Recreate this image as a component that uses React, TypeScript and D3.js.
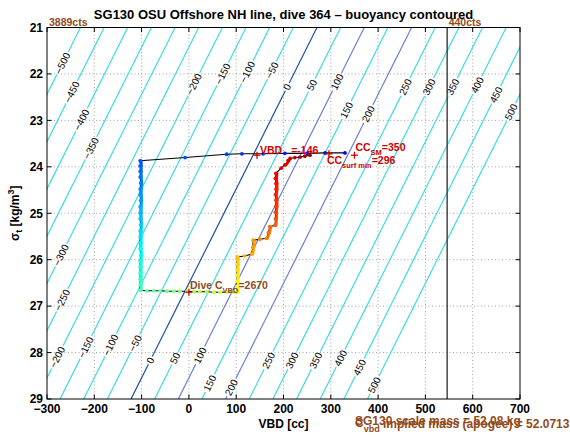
import React from 'react';
import * as d3 from 'd3';

// ---------- data ----------
const xTicks = [-300, -200, -100, 0, 100, 200, 300, 400, 500, 600, 700];
const yTicks = [21, 22, 23, 24, 25, 26, 27, 28, 29];

// buoyancy field: contour level L lies at VBD = L + FIELD_VBD_AT_21 - FIELD_SLOPE*(sigma-21)
const FIELD_VBD_AT_21 = 270.8;
const FIELD_SLOPE = 49.15;
const contourLevels = [-500, -450, -400, -350, -300, -250, -200, -150, -100, -50, 0, 50, 100, 150, 200, 250, 300, 350, 400, 450, 500];
// contour labels: [level, sigma where the label sits]
const contourLabels: [number, number][] = [
  [-500, 21.77], [-450, 22.39], [-400, 22.99], [-350, 23.6], [-300, 25.9], [-250, 26.87],
  [-200, 28.1], [-150, 27.89], [-100, 27.84], [-50, 27.8], [0, 28.17], [50, 28.12], [100, 28.06],
  [150, 28.66], [200, 28.75], [250, 28.17], [300, 28.17], [350, 28.17], [400, 28.12], [450, 28.32], [500, 28.7],
  [-200, 22.22], [-150, 22.0], [-100, 21.96], [-50, 21.92], [0, 22.28], [50, 22.24], [100, 22.17], [150, 22.78],
  [200, 22.86], [250, 22.28], [300, 22.28], [350, 22.28], [400, 22.24], [450, 22.45], [500, 22.82],
];

// dive path (VBD cc, sigma_t)
const pathVbd = [
  330, 288, 250, 203, 157, 112, 80, -8, -103,
  -103, -103, -103, -102, -103, -103, -102, -103, -103, -103, -102, -103, -103, -103, -103, -102, -103, -103, -103, -103, -103, -103,
  -89, -74, -61, -46, -32, -19, -4, 11, 23, 38, 53, 66, 80, 93, 102,
  102, 102, 102, 102, 102, 102, 102,
  118, 133, 135, 136, 150, 164, 168, 171, 182,
  183, 183, 184, 184, 183, 184, 184, 183, 184, 195, 203, 210, 214, 224, 235, 245, 256,
];
const pathSigma = [
  23.70, 23.70, 23.71, 23.71, 23.72, 23.72, 23.73, 23.80, 23.87,
  23.98, 24.10, 24.22, 24.35, 24.48, 24.60, 24.73, 24.86, 24.99, 25.12, 25.25, 25.38, 25.51, 25.64, 25.77, 25.90, 26.03, 26.16, 26.29, 26.42, 26.54, 26.66,
  26.67, 26.67, 26.67, 26.68, 26.68, 26.68, 26.68, 26.69, 26.69, 26.69, 26.70, 26.70, 26.70, 26.70, 26.70,
  26.58, 26.46, 26.34, 26.22, 26.10, 25.99, 25.94,
  25.92, 25.88, 25.73, 25.58, 25.56, 25.54, 25.42, 25.29, 25.26,
  25.12, 24.98, 24.85, 24.72, 24.60, 24.48, 24.36, 24.25, 24.14, 24.03, 23.96, 23.86, 23.82, 23.80, 23.79, 23.77, 23.75,
];

// annotation markers
const markerVbd = [144, 350, 296, 0];
const markerSigma = [23.75, 23.75, 23.72, 26.70];
const apogeeVbd = 546;

// ---------- layout ----------
const W = 570, H = 439;
const PL = 47, PR = 520, PT = 27.5, PB = 399;
const FONT = "'Liberation Sans', Arial, Helvetica, sans-serif";
const BROWN = '#924a1a';
const RED = '#d10000';
const CYAN = '#3cdcdc';

function jet(t: number) {
  const c = (v: number) => Math.max(0, Math.min(1, v));
  const r = c(1.5 - Math.abs(4 * t - 3));
  const g = c(1.5 - Math.abs(4 * t - 2));
  const b = c(1.5 - Math.abs(4 * t - 1));
  return d3.rgb(r * 255, g * 255, b * 255).formatHex();
}

function levelColor(L: number) {
  if (L === 0) return '#1d4fa6';
  if (L === 100 || L === 200) return '#6b7fd2';
  return CYAN;
}

export default function App() {
  const x = d3.scaleLinear().domain([-300, 700]).range([PL, PR]);
  const y = d3.scaleLinear().domain([21, 29]).range([PT, PB]);
  const colorT = d3.scaleLinear().domain([0, pathVbd.length - 1]).range([0.12, 0.97]);
  const lineVbd = (L: number, s: number) => L + FIELD_VBD_AT_21 - FIELD_SLOPE * (s - 21);

  const p1 = [x(lineVbd(0, 21)), y(21)];
  const p2 = [x(lineVbd(0, 29)), y(29)];
  const angle = (Math.atan2(p1[1] - p2[1], p1[0] - p2[0]) * 180) / Math.PI;

  const pts = pathVbd.map((v, i) => [x(v), y(pathSigma[i])]);
  const line = d3.line()(pts as [number, number][]) || '';

  const labelNodes = contourLabels.map(([L, s]) => {
    const px = x(lineVbd(L, s));
    const py = y(s);
    const txt = L < 0 ? '\u2212' + Math.abs(L) : String(L);
    const w = txt.length * 5.6 + 3;
    return { px, py, txt, w };
  });

  const mk = markerVbd.map((v, i) => [x(v), y(markerSigma[i])]);

  return (
    <svg width={W} height={H} style={{ position: 'absolute', left: 0, top: 0, background: '#fff' }} fontFamily={FONT}>
      <defs>
        <clipPath id="plotClip">
          <rect x={PL} y={PT} width={PR - PL} height={PB - PT} />
        </clipPath>
        <mask id="gapMask" maskUnits="userSpaceOnUse" x={0} y={0} width={W} height={H}>
          <rect x={0} y={0} width={W} height={H} fill="#fff" />
          {labelNodes.map((l, i) => (
            <rect key={i} x={-l.w / 2} y={-5} width={l.w} height={10} fill="#000"
              transform={`translate(${l.px},${l.py}) rotate(${angle})`} />
          ))}
        </mask>
      </defs>
      <rect x={0} y={0} width={W} height={H} fill="#fff" />

      {/* grid */}
      <g stroke="#8a8a8a" strokeWidth={0.8} strokeDasharray="1,2.5">
        {xTicks.slice(1, -1).map((t) => (
          <line key={'gx' + t} x1={x(t)} x2={x(t)} y1={PT} y2={PB} />
        ))}
        {yTicks.slice(1, -1).map((t) => (
          <line key={'gy' + t} x1={PL} x2={PR} y1={y(t)} y2={y(t)} />
        ))}
      </g>

      {/* contours */}
      <g clipPath="url(#plotClip)">
        <g mask="url(#gapMask)">
          {contourLevels.map((L) => (
            <line key={'c' + L} x1={x(lineVbd(L, 21))} y1={y(21)} x2={x(lineVbd(L, 29))} y2={y(29)}
              stroke={levelColor(L)} strokeWidth={1.2} />
          ))}
        </g>
        {labelNodes.map((l, i) => (
          <text key={'lt' + i} transform={`translate(${l.px},${l.py}) rotate(${angle})`}
            textAnchor="middle" dominantBaseline="central" fontSize={10} fill="#000">{l.txt}</text>
        ))}
      </g>

      {/* apogee vbd line */}
      <line x1={x(apogeeVbd)} x2={x(apogeeVbd)} y1={PT} y2={PB} stroke="#3a3a3a" strokeWidth={1.4} />

      {/* dive path */}
      <g clipPath="url(#plotClip)">
        <path d={line} fill="none" stroke="#000" strokeWidth={1.1} />
        {pts.slice(1).map((p, i) => {
          const q = pts[i];
          const dx = Math.abs(p[0] - q[0]);
          const dy = Math.abs(p[1] - q[1]);
          if (dy <= dx) return null;
          return (
            <line key={'s' + i} x1={q[0] + 1.2} y1={q[1]} x2={p[0] + 1.2} y2={p[1]}
              stroke={jet(colorT(i + 0.5))} strokeWidth={2.6} strokeLinecap="round" />
          );
        })}
        {pts.map((p, i) => (
          <circle key={'p' + i} cx={p[0]} cy={p[1]} r={1.9} fill={jet(colorT(i))} />
        ))}
      </g>

      {/* markers */}
      <g stroke={RED} strokeWidth={1.3}>
        {mk.map((m, i) => (
          <g key={'m' + i}>
            <line x1={m[0] - 3.5} x2={m[0] + 3.5} y1={m[1]} y2={m[1]} />
            <line x1={m[0]} x2={m[0]} y1={m[1] - 3.5} y2={m[1] + 3.5} />
          </g>
        ))}
      </g>

      {/* annotations */}
      <g fontWeight="bold" fontSize={10.5}>
        <text x={mk[0][0] + 3} y={mk[0][1] - 1} fill={RED}>VBD<tspan dx={9}>=-146</tspan></text>
        <text x={mk[1][0] + 1} y={mk[1][1] - 4} fill={RED}>CC<tspan fontSize={7.5} dy={4}>SM</tspan><tspan dy={-4}>=350</tspan></text>
        <text x={mk[2][0] - 2} y={mk[2][1] + 10} fill={RED}>CC<tspan fontSize={7.5} dy={4}>surf min</tspan><tspan dy={-4}>=296</tspan></text>
        <text x={mk[3][0] + 1} y={mk[3][1] - 3} fill={BROWN}>Dive C<tspan fontSize={7.5} dy={4}>VBD</tspan><tspan dy={-4}>=2670</tspan></text>
        <text x={PL + 2} y={26} fill={BROWN}>3889cts</text>
        <text x={x(apogeeVbd) + 1.5} y={26} fill={BROWN}>440cts</text>
      </g>

      {/* axes box and ticks */}
      <rect x={PL} y={PT} width={PR - PL} height={PB - PT} fill="none" stroke="#000" strokeWidth={1} />
      <g stroke="#000" strokeWidth={1}>
        {xTicks.map((t) => (
          <g key={'tx' + t}>
            <line x1={x(t)} x2={x(t)} y1={PB} y2={PB - 4.5} />
            <line x1={x(t)} x2={x(t)} y1={PT} y2={PT + 4.5} />
          </g>
        ))}
        {yTicks.map((t) => (
          <g key={'ty' + t}>
            <line x1={PL} x2={PL + 4.5} y1={y(t)} y2={y(t)} />
            <line x1={PR} x2={PR - 4.5} y1={y(t)} y2={y(t)} />
          </g>
        ))}
      </g>
      <g fontWeight="bold" fontSize={12} fill="#000">
        {xTicks.map((t) => (
          <text key={'xl' + t} x={x(t)} y={PB + 14} textAnchor="middle">{t < 0 ? '\u2212' + Math.abs(t) : t}</text>
        ))}
        {yTicks.map((t) => (
          <text key={'yl' + t} x={PL - 4} y={y(t) + 4.3} textAnchor="end">{t}</text>
        ))}
        <text x={(PL + PR) / 2} y={428} textAnchor="middle">VBD [cc]</text>
        <text transform={`translate(19,${(PT + PB) / 2}) rotate(-90)`} textAnchor="middle">
          σ<tspan fontSize={9} dy={3}>t</tspan><tspan dy={-3}> [kg/m</tspan><tspan fontSize={9} dy={-5}>3</tspan><tspan dy={5}>]</tspan>
        </text>
      </g>

      {/* title */}
      <text x={(PL + PR) / 2} y={19} textAnchor="middle" fontWeight="bold" fontSize={13}>
        SG130 OSU Offshore NH line, dive 364 – buoyancy contoured
      </text>

      {/* mass annotations */}
      <g fontWeight="bold" fontSize={12} fill={BROWN}>
        <text x={355} y={425}>SG130 scale mass = 52.08 kg</text>
        <text x={355} y={427}>C<tspan fontSize={9} dy={5}>vbd</tspan><tspan dy={-4}> implied mass (apogee) = 52.0713 kg</tspan></text>
      </g>
    </svg>
  );
}
